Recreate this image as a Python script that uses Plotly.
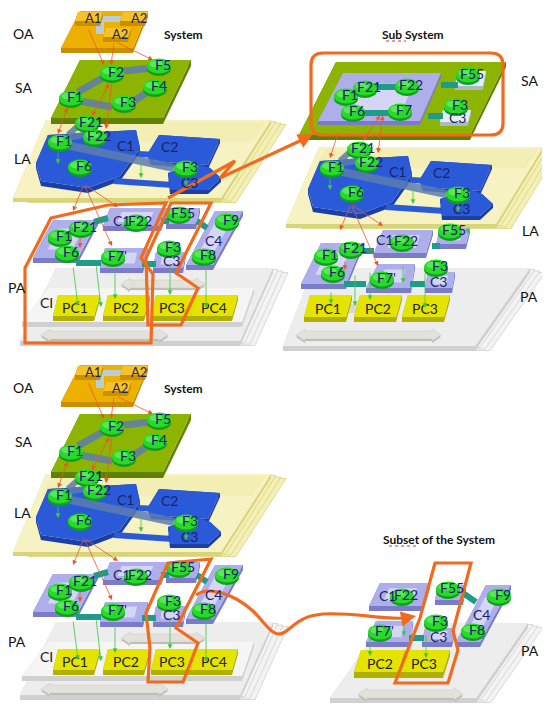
import plotly.graph_objects as go

# ---------------- labels and positions (pixel space of the 550x706 picture) ----------------
LAYER_LABELS = ["OA", "SA", "LA", "PA"]
LAYER_LABEL_X = [15, 15, 14, 9]
LAYER_LABEL_Y = [25, 79, 150, 279]

OA_BLOCKS = ["A1", "A2", "A2"]
OA_BLOCK_X = [85, 131, 112]
OA_BLOCK_Y = [10, 10, 26]

SA_NODES = ["F2", "F5", "F4", "F3", "F1"]
SA_NODE_X = [104, 151, 147, 116, 63]
SA_NODE_Y = [65, 58, 79, 95, 90]

LA_NODES = ["F21", "F1", "F22", "F6", "F3"]
LA_NODE_X = [79, 52, 87, 72, 178]
LA_NODE_Y = [115, 134, 129, 159, 160]
LA_COMPONENTS = ["C1", "C2", "C3"]
LA_COMP_X = [117, 161, 181]
LA_COMP_Y = [137, 138, 174]

PA_NODES = ["F1", "F21", "F6", "F22", "F55", "F9", "F3", "F8", "F7'"]
PA_NODE_X = [52, 73, 59, 128, 171, 219, 161, 196, 105]
PA_NODE_Y = [229, 220, 245, 214, 206, 213, 240, 248, 249]
PA_COMPONENTS = ["C1", "C4", "C3", "CI"]
PA_COMP_X = [113, 205, 163, 38]
PA_COMP_Y = [212, 232, 252, 294]
PC_LABELS = ["PC1", "PC2", "PC3", "PC4"]
PC_X = [67, 118, 164, 206]
PC_Y = [299, 299, 299, 299]

SUB_SA_NODES = ["F1", "F21", "F22", "F6", "F7", "F55", "F3"]
SUB_SA_X = [338, 357, 399, 345, 392, 460, 448]
SUB_SA_Y = [88, 80, 78, 104, 103, 67, 98]

SUB_PA_NODES = ["F21", "F1", "F6", "F22", "F55", "F7'", "F3"]
SUB_PA_X = [343, 318, 325, 394, 442, 374, 428]
SUB_PA_Y = [241, 248, 265, 234, 223, 271, 259]
SUB_PA_COMPONENTS = ["C1", "C3"]
SUB_PA_COMP_X = [376, 430]
SUB_PA_COMP_Y = [231, 273]
SUB_PC_LABELS = ["PC1", "PC2", "PC3"]
SUB_PC_X = [320, 370, 417]

SET_NODES = ["F22", "F55", "F9", "F8", "F7'", "F3"]
SET_X = [394, 440, 491, 465, 372, 428]
SET_Y = [588, 581, 588, 623, 624, 614]
SET_COMPONENTS = ["C1", "C4", "C3"]
SET_COMP_X = [379, 473, 430]
SET_COMP_Y = [587, 606, 628]
SET_PC_LABELS = ["PC2", "PC3"]
SET_PC_X = [372, 416]

TITLES = ["System", "Sub System", "System", "Subset of the System"]
TITLE_X = [175, 405, 175, 431]
TITLE_Y = [26, 26, 380, 531]

# ---------------- colours ----------------
NAVY = "#1B2266"
GOLD, GOLD_SIDE = "#EDB000", "#C98F00"
OLIVE, OLIVE_SIDE = "#8CB400", "#5F8000"
LA_TOP, LA_SIDE, LA_EDGE = "#F6F2C2", "#D8D47A", "#F3EFB6"
BLUE, BLUE_SIDE = "#2A5AD8", "#1B3FA6"
LAV, LAV_LIGHT, LAV_SIDE = "#AEAEEA", "#E2E2FA", "#7B7BCC"
PC_TOP, PC_SIDE = "#E4E400", "#B0B000"
GREY, GREY_SIDE = "#EDEDED", "#D0D0D0"
TEAL = "#1F9B8A"
BAR = "#5C7DB2"
GREEN_ARROW = "#3CC83C"
RED = "#F0542A"
ORANGE = "#F26A1E"

shapes = []
annotations = []


def path_of(pts, close=True):
    s = "M " + " L ".join(f"{x:.1f},{y:.1f}" for x, y in pts)
    return s + (" Z" if close else "")


def poly(pts, fill, line=None, lw=0, opacity=1):
    shapes.append(dict(type="path", path=path_of(pts), xref="x", yref="y",
                       fillcolor=fill, opacity=opacity, layer="above",
                       line=dict(color=line or fill, width=lw)))


def shift(pts, dx=0, dy=0):
    return [(x + dx, y + dy) for x, y in pts]


def slab(pts, top, side, depth, light=None):
    n = len(pts)
    for i in range(n):
        a, b = pts[i], pts[(i + 1) % n]
        poly([a, b, (b[0], b[1] + depth), (a[0], a[1] + depth)], side)
    poly(pts, top)
    if light:
        cx = sum(p[0] for p in pts) / n
        cy = sum(p[1] for p in pts) / n
        inner = [(cx + (x - cx) * 0.55, cy + (y - cy) * 0.55) for x, y in pts]
        poly(inner, light, opacity=0.75)


def bar(x0, y0, x1, y1, color, w, opacity=1):
    shapes.append(dict(type="line", x0=x0, y0=y0, x1=x1, y1=y1, xref="x", yref="y",
                       layer="above", opacity=opacity, line=dict(color=color, width=w)))


def ellipse(cx, cy, rx, ry, color, opacity=1):
    shapes.append(dict(type="circle", xref="x", yref="y", x0=cx - rx, x1=cx + rx,
                       y0=cy - ry, y1=cy + ry, fillcolor=color, opacity=opacity,
                       layer="above", line=dict(width=0)))


def text(x, y, s, size=14, color=NAVY, bold=False):
    annotations.append(dict(x=x, y=y, xref="x", yref="y", text=f"<b>{s}</b>" if bold else s,
                            showarrow=False, xanchor="center", yanchor="middle",
                            font=dict(family="Lato, Noto Sans", size=size, color=color)))


def node(cx, cy, label, rx=12, ry=7.5):
    ellipse(cx, cy + 2.5, rx, ry, "#119E1F")
    ellipse(cx, cy, rx, ry, "#27DA27")
    ellipse(cx - 3, cy - 2, rx * 0.55, ry * 0.45, "#8AF58A", opacity=0.5)
    text(cx + 4, cy - 2, label)


def arrow(tx, ty, hx, hy, color=RED, w=0.8, both=False, size=1.2):
    a = dict(x=hx, y=hy, ax=tx, ay=ty, xref="x", yref="y", axref="x", ayref="y",
             text="", showarrow=True, arrowhead=2, arrowsize=size, arrowwidth=w,
             arrowcolor=color, standoff=0, startstandoff=0)
    if both:
        a.update(arrowside="end+start", startarrowhead=2, startarrowsize=size)
    annotations.append(a)


def orange(pts, close=True, w=3.2):
    shapes.append(dict(type="path", path=path_of(pts, close), xref="x", yref="y",
                       fillcolor="rgba(0,0,0,0)", layer="above",
                       line=dict(color=ORANGE, width=w)))


def grey_arrow(x0, x1, y, h=8):
    pts = [(x0, y), (x0 + 9, y - h / 2 - 2), (x0 + 9, y - h / 2), (x1 - 9, y - h / 2),
           (x1 - 9, y - h / 2 - 2), (x1, y), (x1 - 9, y + h / 2 + 2), (x1 - 9, y + h / 2),
           (x0 + 9, y + h / 2), (x0 + 9, y + h / 2 + 2)]
    poly(shift(pts, 0, 2), "#BDBDB5")
    poly(pts, "#E2E2DA", line="#C8C8C0", lw=0.5)


def plane_stack(pts, top, side, edge, depth, n=3):
    # thin sheets stacked behind the main plane, visible mostly at its right edge
    for k in range(n, 0, -1):
        poly(shift(pts, 5 * k, 1.5 * k), edge, line=side, lw=0.8)
    slab(pts, top, side, depth)


# ---------------- layered "System" view ----------------
def la_layer(dx, dy):
    P = lambda pts: shift(pts, dx, dy)
    slab(P([(40, 127), (128, 122), (132, 140), (112, 168), (80, 180), (33, 173), (28, 155)]),
         BLUE, BLUE_SIDE, 5)
    slab(P([(151, 127), (212, 131), (200, 157), (143, 153), (140, 145)]), BLUE, BLUE_SIDE, 4)
    bar(130 + dx, 146 + dy, 150 + dx, 147 + dy, BLUE, 6)
    bar(106 + dx, 173 + dy, 165 + dx, 177 + dy, BLUE, 6)
    slab(P([(160, 165), (188, 155), (202, 160), (213, 170), (200, 182), (162, 182)]),
         BLUE, BLUE_SIDE, 4)
    bar(58 + dx, 137 + dy, 166 + dx, 160 + dy, BAR, 8, 0.85)
    bar(60 + dx, 130 + dy, 80 + dx, 126 + dy, BAR, 6, 0.85)
    bar(70 + dx, 118 + dy, 60 + dx, 127 + dy, BAR, 6, 0.85)
    for s, x, y in zip(LA_COMPONENTS, LA_COMP_X, LA_COMP_Y):
        text(x + dx, y + dy, s)
    for s, x, y in zip(LA_NODES, LA_NODE_X, LA_NODE_Y):
        node(x + dx, y + dy, s)
    arrow(50 + dx, 143 + dy, 50 + dx, 156 + dy, GREEN_ARROW)
    arrow(133 + dx, 152 + dy, 133 + dx, 170 + dy, GREEN_ARROW)
    arrow(178 + dx, 168 + dy, 178 + dx, 178 + dy, GREEN_ARROW)


def system(dy):
    P = lambda pts: shift(pts, 0, dy)
    # OA
    slab(P([(72, 3), (140, 3), (125, 40), (53, 40)]), GOLD, GOLD_SIDE, 5)
    poly(P([(92, 8), (118, 8), (118, 14), (92, 14)]), "#B8CDD8")
    poly(P([(88, 13), (96, 13), (96, 26), (88, 26)]), "#B8CDD8")
    slab(P([(70, 4), (95, 4), (92, 13), (67, 13)]), "#F5C228", GOLD_SIDE, 5)
    slab(P([(115, 4), (140, 4), (137, 13), (112, 13)]), "#F5C228", GOLD_SIDE, 5)
    slab(P([(98, 20), (123, 20), (120, 29), (95, 29)]), "#F5C228", GOLD_SIDE, 5)
    for s, x, y in zip(OA_BLOCKS, OA_BLOCK_X, OA_BLOCK_Y):
        text(x, y + dy, s, 13)
    # LA plane (under SA plate)
    plane_stack(P([(38, 112), (263, 112), (213, 190), (5, 190)]), LA_TOP, LA_SIDE, LA_EDGE, 4)
    poly(P([(45, 114), (258, 114), (245, 134), (33, 134)]), "#F1EBA8", opacity=0.6)
    # SA
    slab(P([(72, 52), (183, 52), (155, 110), (43, 110)]), OLIVE, OLIVE_SIDE, 6)
    bar(70, 84 + dy, 98, 68 + dy, BAR, 7, 0.85)
    bar(72, 93 + dy, 104, 99 + dy, BAR, 7, 0.85)
    bar(116, 63 + dy, 143, 60 + dy, BAR, 7, 0.85)
    bar(126, 93 + dy, 141, 83 + dy, BAR, 7, 0.85)
    for s, x, y in zip(SA_NODES, SA_NODE_X, SA_NODE_Y):
        node(x, y + dy, s)
    la_layer(0, dy)
    # PA
    plane_stack(P([(48, 260), (265, 260), (232, 333), (12, 333)]), GREY, GREY_SIDE, "#F3F3F3", 5)
    slab(P([(40, 280), (246, 280), (234, 314), (14, 314)]), "#F5F5F5", GREY_SIDE, 5)
    grey_arrow(113, 197, 276 + dy)
    grey_arrow(33, 160, 327 + dy)
    for x0 in (50, 100, 148, 188):
        slab(P([(x0, 287), (x0 + 42, 287), (x0 + 36, 308), (x0 - 5, 308)]), PC_TOP, PC_SIDE, 5)
    for s, x, y in zip(PC_LABELS, PC_X, PC_Y):
        text(x, y + dy, s, 14, "#222222")
    boxes = [[(45, 212), (90, 212), (70, 250), (25, 250)],
             [(102, 200), (160, 200), (153, 218), (95, 218)],
             [(162, 200), (192, 200), (188, 216), (158, 216)],
             [(207, 203), (235, 203), (205, 257), (178, 257)],
             [(97, 240), (140, 240), (135, 260), (92, 260)],
             [(148, 244), (178, 244), (175, 260), (145, 260)]]
    for b in boxes:
        slab(P(b), LAV, LAV_SIDE, 5, LAV_LIGHT)
    bar(86, 214 + dy, 100, 210 + dy, TEAL, 6)
    bar(68, 255 + dy, 93, 255 + dy, TEAL, 6)
    bar(153, 213 + dy, 161, 213 + dy, TEAL, 6)
    bar(189, 213 + dy, 199, 220 + dy, TEAL, 6)
    bar(134, 256 + dy, 148, 256 + dy, TEAL, 6)
    for s, x, y in zip(PA_COMPONENTS, PA_COMP_X, PA_COMP_Y):
        text(x, y + dy, s, 14, "#222222" if s == "CI" else NAVY)
    for s, x, y in zip(PA_NODES, PA_NODE_X, PA_NODE_Y):
        node(x, y + dy, s)
    # green mapping arrows
    arrow(65, 258 + dy, 70, 298 + dy, GREEN_ARROW)
    arrow(88, 256 + dy, 93, 299 + dy, GREEN_ARROW)
    arrow(107, 262 + dy, 107, 291 + dy, GREEN_ARROW)
    arrow(162, 256 + dy, 162, 287 + dy, GREEN_ARROW)
    arrow(198, 256 + dy, 198, 300 + dy, GREEN_ARROW)
    # red allocation arrows
    arrow(80, 20 + dy, 96, 57 + dy)
    arrow(106, 34 + dy, 103, 57 + dy)
    arrow(108, 34 + dy, 145, 52 + dy)
    arrow(102, 74 + dy, 84, 108 + dy, both=True)
    arrow(104, 74 + dy, 98, 121 + dy)
    arrow(60, 98 + dy, 50, 126 + dy, both=True)
    arrow(76, 176 + dy, 65, 203 + dy)
    arrow(76, 176 + dy, 104, 238 + dy)
    arrow(76, 176 + dy, 110, 199 + dy)
    arrow(72, 228 + dy, 72, 240 + dy)
    for s, x, y in zip(LAYER_LABELS, LAYER_LABEL_X, LAYER_LABEL_Y):
        text(x, y + dy, s, 14, "#111111")


system(0)
system(354)

# ---------------- "Sub System" view (top right) ----------------
plane_stack([(311, 139), (535, 139), (488, 216), (278, 216)], LA_TOP, LA_SIDE, LA_EDGE, 4)
poly([(318, 141), (530, 141), (518, 160), (306, 160)], "#F1EBA8", opacity=0.6)
slab([(328, 54), (498, 54), (462, 127), (291, 127)], OLIVE, OLIVE_SIDE, 5)
slab([(335, 65), (433, 65), (412, 113), (310, 113)], LAV, LAV_SIDE, 4, LAV_LIGHT)
slab([(450, 63), (478, 63), (475, 78), (447, 78)], "#E6EEF4", "#A9BAC6", 4)
slab([(435, 102), (463, 102), (460, 114), (432, 114)], "#E6EEF4", "#A9BAC6", 4)
bar(368, 79, 389, 79, TEAL, 6)
bar(356, 105, 380, 105, TEAL, 6)
bar(433, 77, 450, 77, TEAL, 6)
bar(420, 108, 435, 108, TEAL, 6)
text(449, 109, "C3")
for s, x, y in zip(SUB_SA_NODES, SUB_SA_X, SUB_SA_Y):
    node(x, y, s)
la_layer(272, 26)
arrow(373, 106, 355, 133, both=True)
arrow(375, 106, 370, 145, both=True)
arrow(330, 125, 322, 150)

plane_stack([(305, 260), (522, 260), (467, 338), (275, 338)], GREY, GREY_SIDE, "#F3F3F3", 5)
grey_arrow(288, 433, 327)
poly([(340, 296), (352, 296), (352, 305), (340, 305)], "#D8D8D0")
for x0 in (302, 352, 400):
    slab([(x0, 287), (x0 + 42, 287), (x0 + 36, 309), (x0 - 6, 309)], PC_TOP, PC_SIDE, 5)
for s, x in zip(SUB_PC_LABELS, SUB_PC_X):
    text(x, 300, s, 14, "#222222")
sub_boxes = [[(313, 235), (355, 235), (338, 276), (293, 276)],
             [(375, 222), (425, 222), (418, 245), (366, 245)],
             [(432, 220), (462, 220), (458, 236), (428, 236)],
             [(370, 256), (407, 256), (403, 280), (358, 280)],
             [(420, 264), (447, 264), (444, 280), (417, 280)]]
for b in sub_boxes:
    slab(b, LAV, LAV_SIDE, 5, LAV_LIGHT)
bar(354, 243, 366, 243, TEAL, 6)
bar(336, 276, 358, 276, TEAL, 6)
bar(424, 238, 432, 238, TEAL, 6)
bar(402, 276, 417, 276, TEAL, 6)
for s, x, y in zip(SUB_PA_COMPONENTS, SUB_PA_COMP_X, SUB_PA_COMP_Y):
    text(x, y, s)
for s, x, y in zip(SUB_PA_NODES, SUB_PA_X, SUB_PA_Y):
    node(x, y, s)
arrow(343, 196, 332, 222)
arrow(343, 196, 375, 218)
arrow(343, 196, 370, 258)
arrow(337, 252, 337, 262)
arrow(323, 283, 323, 296, GREEN_ARROW)
arrow(347, 266, 347, 298, GREEN_ARROW)
arrow(362, 263, 362, 292, GREEN_ARROW)
arrow(395, 257, 395, 275, GREEN_ARROW)
arrow(417, 264, 417, 300, GREEN_ARROW)
arrow(460, 218, 460, 226, GREEN_ARROW)
text(521, 72, "SA", 14, "#111111")
text(522, 222, "LA", 14, "#111111")
text(521, 288, "PA", 14, "#111111")

# ---------------- "Subset of the System" view (bottom right) ----------------
plane_stack([(375, 615), (520, 615), (468, 690), (322, 690)], GREY, GREY_SIDE, "#F3F3F3", 5)
grey_arrow(350, 455, 686)
for x0 in (353, 398):
    slab([(x0, 642), (x0 + 44, 642), (x0 + 37, 664), (x0 - 7, 664)], PC_TOP, PC_SIDE, 6)
for s, x in zip(SET_PC_LABELS, SET_PC_X):
    text(x, 655, s, 14, "#222222")
set_boxes = [[(372, 575), (422, 575), (415, 598), (361, 598)],
             [(430, 577), (458, 577), (455, 592), (427, 592)],
             [(478, 577), (503, 577), (472, 634), (448, 634)],
             [(368, 613), (405, 613), (402, 634), (358, 634)],
             [(417, 620), (447, 620), (444, 634), (414, 634)]]
for b in set_boxes:
    slab(b, LAV, LAV_SIDE, 5, LAV_LIGHT)
bar(455, 585, 468, 594, TEAL, 6)
bar(401, 630, 416, 630, TEAL, 6)
for s, x, y in zip(SET_COMPONENTS, SET_COMP_X, SET_COMP_Y):
    text(x, y, s)
for s, x, y in zip(SET_NODES, SET_X, SET_Y):
    node(x, y, s)
arrow(362, 617, 362, 648, GREEN_ARROW)
arrow(396, 604, 396, 628, GREEN_ARROW)
arrow(418, 626, 418, 650, GREEN_ARROW)
text(522, 642, "PA", 14, "#111111")

# ---------------- titles ----------------
for s, x, y in zip(TITLES, TITLE_X, TITLE_Y):
    text(x, y, s, 12, "#111111", bold=True)
shapes.append(dict(type="line", x0=378, x1=398, y0=33, y1=33, xref="x", yref="y",
                   layer="above", line=dict(color="#E03030", width=1, dash="dot")))
shapes.append(dict(type="line", x0=381, x1=410, y0=538, y1=538, xref="x", yref="y",
                   layer="above", line=dict(color="#E03030", width=1, dash="dot")))

# ---------------- orange highlights ----------------
orange([(43, 210), (100, 197), (158, 195), (133, 250), (145, 266), (143, 335), (17, 335), (17, 260)])
orange([(163, 195), (203, 195), (168, 265), (190, 280), (173, 317), (140, 317), (138, 250)])
orange([(160, 190), (227, 153), (212, 170), (296, 131)], close=False)
arrow(290, 134, 305, 126, ORANGE, 3, size=1)
shapes.append(dict(type="path", xref="x", yref="y", layer="above", fillcolor="rgba(0,0,0,0)",
                   line=dict(color=ORANGE, width=3.2),
                   path="M 315,45 L 483,45 Q 495,45 495,57 L 495,115 Q 495,127 483,127 "
                        "L 315,127 Q 303,127 303,115 L 303,57 Q 303,45 315,45 Z"))
orange([(160, 555), (203, 551), (168, 620), (190, 635), (175, 674), (140, 674), (142, 640), (138, 605)])
shapes.append(dict(type="path", xref="x", yref="y", layer="above", fillcolor="rgba(0,0,0,0)",
                   line=dict(color=ORANGE, width=3.2),
                   path="M 188,587 C 200,578 225,585 245,603 C 258,616 265,630 275,625 "
                        "C 285,620 290,608 315,606 C 345,604 375,612 398,610"))
arrow(392, 611, 408, 608, ORANGE, 3, size=1)
orange([(427, 555), (463, 555), (445, 623), (450, 642), (440, 675), (387, 675), (412, 610)])

fig = go.Figure(go.Scatter(x=[0, 550], y=[0, 706], mode="markers",
                           marker=dict(opacity=0), hoverinfo="skip"))
fig.update_layout(width=550, height=706, margin=dict(l=0, r=0, t=0, b=0),
                  paper_bgcolor="white", plot_bgcolor="white", showlegend=False,
                  xaxis=dict(range=[0, 550], visible=False, fixedrange=True),
                  yaxis=dict(range=[706, 0], visible=False, fixedrange=True),
                  shapes=shapes, annotations=annotations)
fig.write_html("out.html")
